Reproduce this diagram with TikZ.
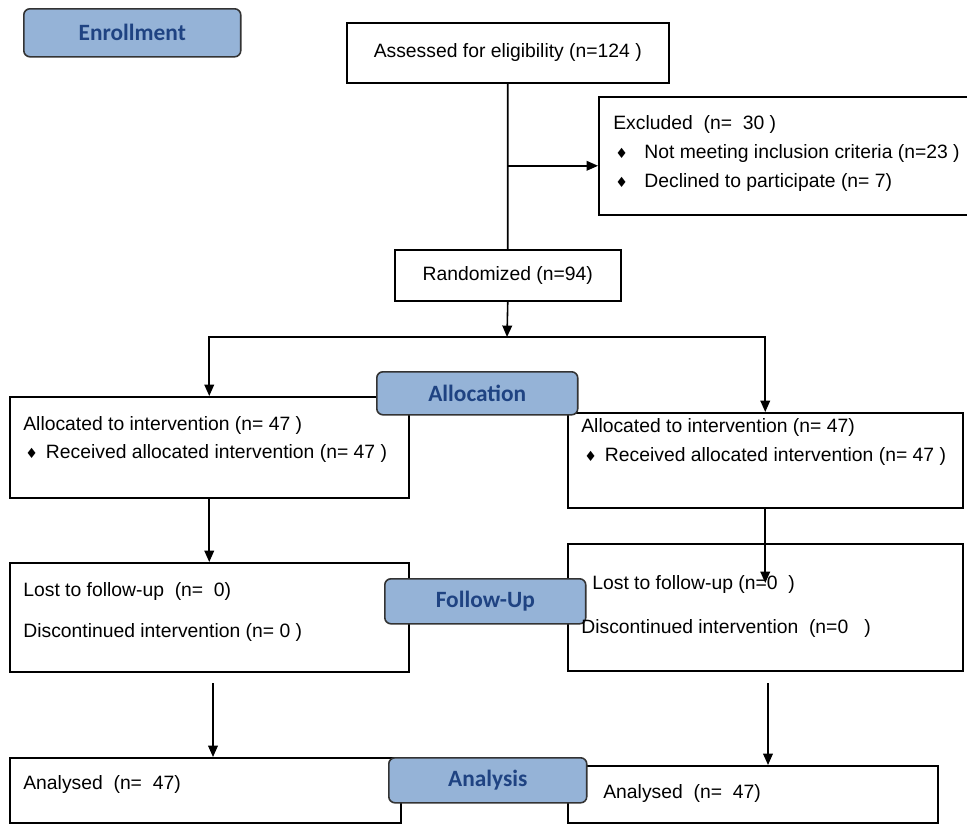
\documentclass[tikz,border=0pt]{standalone}
\usepackage{fontspec}
\setmainfont{Liberation Sans}
\newfontfamily\stagefont{Carlito}
\newfontfamily\symfont{DejaVu Sans}
\usepackage{tikz}
\usetikzlibrary{arrows.meta, positioning, calc}
\usepackage{xcolor}
\definecolor{stagefill}{RGB}{149,179,215}
\definecolor{stagetext}{RGB}{31,67,130}
\newcommand{\bul}{{\symfont\fontsize{8}{9}\selectfont\char"2666}}

\begin{document}
\begin{tikzpicture}[
    x=0.02cm, y=-0.02cm,
    flowbox/.style={rectangle, draw, line width=0.9pt, inner sep=0pt, anchor=north west, font=\fontsize{11}{13}\selectfont},
    stage/.style={rectangle, rounded corners=3.5pt, draw=black!80, line width=0.9pt, fill=stagefill, text=stagetext, inner sep=0pt, anchor=north west, font=\stagefont\bfseries\fontsize{13.3}{15}\selectfont},
    txt/.style={anchor=base west, inner sep=0pt, font=\fontsize{11}{13}\selectfont},
    arrow/.style={-{Triangle[length=6.5pt, width=5.5pt]}, line width=0.9pt}
]
    \useasboundingbox (0,0) rectangle (967,823);

    % Enrollment
    \node[stage, minimum width=4.34cm, minimum height=0.96cm] (enrol) at (23,8) {Enrollment};
    \node[flowbox, minimum width=6.44cm, minimum height=1.2cm] (ass) at (346,22) {Assessed for eligibility (n=124 )};
    \node[flowbox, minimum width=8cm, minimum height=2.36cm] (exc) at (598,96) {};
    \node[txt] (exct) at (613,129) {Excluded\ \ (n=\ \ 30 )};
    \node[txt] (exc1) at (615,158) {\bul\hspace{0.33cm}Not meeting inclusion criteria (n=23 )};
    \node[txt] (exc2) at (615,187) {\bul\hspace{0.33cm}Declined to participate (n= 7)};
    \node[flowbox, minimum width=4.52cm, minimum height=1.02cm] (rand) at (394,249) {Randomized (n=94)};

    \draw[line width=0.9pt] (ass.south) -- (rand.north);
    \draw[arrow] ([yshift=-0.2cm]exc.west -| ass.south) -- ([yshift=-0.2cm]exc.west);

    % Allocation
    \node[flowbox, minimum width=7.98cm, minimum height=2.02cm] (la) at (9,396) {};
    \node[txt] (la1) at (23,430) {Allocated to intervention (n= 47 )};
    \node[txt] (la2) at (25,458) {\bul\hspace{0.16cm}Received allocated intervention (n= 47 )};
    \node[flowbox, minimum width=7.9cm, minimum height=1.9cm] (ra) at (567,412) {};
    \node[txt] (ra1) at (581,432) {Allocated to intervention (n= 47)};
    \node[txt] (ra2) at (584,461) {\bul\hspace{0.16cm}Received allocated intervention (n= 47 )};
    \node[stage, minimum width=4.02cm, minimum height=0.86cm] (alloc) at (376,371) {Allocation};

    \coordinate (split) at (507,337);
    \draw[arrow] (rand.south) -- (split);
    \draw[arrow] (split) -| (la.north);
    \draw[arrow] (split) -| (ra.north);

    % Follow-Up
    \node[flowbox, minimum width=7.98cm, minimum height=2.18cm] (lf) at (9,562) {};
    \node[txt] (lf1) at (23,596) {Lost to follow-up\ \ (n=\ \ 0)};
    \node[txt] (lf2) at (23,637) {Discontinued intervention (n= 0 )};
    \node[flowbox, minimum width=7.9cm, minimum height=2.54cm] (rf) at (567,543) {};
    \node[stage, minimum width=4.02cm, minimum height=0.9cm] (follow) at (384,578) {Follow-Up};
    \node[txt] (rf1) at (592,589) {Lost to follow-up (n=0\ \ )};
    \node[txt] (rf2) at (581,633) {Discontinued intervention\ \ (n=0\ \ \ )};

    \draw[arrow] (la.south) -- (lf.north);
    \draw[arrow] (ra.south) -- ([yshift=-0.8cm]rf.north);

    % Analysis
    \node[flowbox, minimum width=7.82cm, minimum height=1.3cm] (lan) at (9,757) {};
    \node[txt] (lan1) at (23,789) {Analysed\ \ (n=\ \ 47)};
    \node[flowbox, minimum width=7.4cm, minimum height=1.14cm] (ran) at (567,765) {};
    \node[txt] (ran1) at (603,798) {Analysed\ \ (n=\ \ 47)};
    \node[stage, minimum width=3.96cm, minimum height=0.9cm] (analysis) at (388,757) {Analysis};

    \coordinate (lout) at (213,683);
    \coordinate (rout) at (768,683);
    \draw[arrow] (lout) -- (lout |- lan.north);
    \draw[arrow] (rout) -- (rout |- ran.north);

\end{tikzpicture}
\end{document}
